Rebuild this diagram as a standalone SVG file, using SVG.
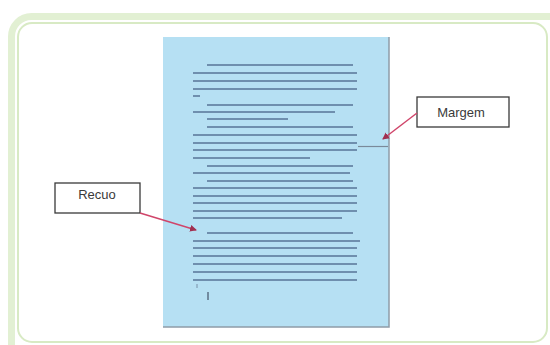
<svg xmlns="http://www.w3.org/2000/svg" width="550" height="345" viewBox="0 0 550 345">
<style>
.tl{stroke:#6f8fae;stroke-width:2.2;fill:none}
.box{fill:#fff;stroke:#3a3a3a;stroke-width:1.3}
.lbl{font-family:"Liberation Sans",Arial,sans-serif;font-size:13px;fill:#3a3a3a;text-anchor:middle}
.arr{stroke:#d0456a;stroke-width:1.5;fill:none;marker-end:url(#ah)}
</style>
<defs>
<marker id="ah" markerWidth="8" markerHeight="8" refX="6" refY="4" orient="auto" markerUnits="userSpaceOnUse">
<path d="M0,0.5 L7,4 L0,7.5 Z" fill="#a03050"/>
</marker>
</defs>
<rect width="550" height="345" fill="#fff"/>
<rect x="11.5" y="16.5" width="570" height="370" rx="20" fill="none" stroke="#e2f0d3" stroke-width="7"/>
<rect x="18" y="23" width="529" height="319" rx="14" fill="none" stroke="#d8eac4" stroke-width="2"/>
<g id="page">
<rect x="163" y="37" width="226" height="290" fill="#b6e0f3"/>
<path d="M389,37 V327 H163" stroke="#8e9ca8" stroke-width="1.5" fill="none"/>
<g class="tl">
<path d="M207,65 H353 M193,73 H357 M193,81 H357 M193,89 H357 M193,96 H200 M207,105 H353 M193,112 H335 M207,119 H288 M207,127 H353 M193,135 H357 M193,143 H357 M193,150 H357 M193,158 H310 M207,166 H353 M193,173 H350 M207,181 H353 M193,188 H357 M193,196 H357 M193,203 H357 M193,211 H357 M193,218 H342 M207,233 H353 M193,241 H360 M193,248 H357 M193,256 H357 M193,264 H357 M193,272 H357 M193,280 H357"/>
</g>
<path d="M208,292 V300" stroke="#5a6f85" stroke-width="1.5"/>
<path d="M197,284 V288" stroke="#7890a8" stroke-width="1"/>
<path d="M358,146.5 H388" stroke="#7a8a9a" stroke-width="1.2"/>
</g>
<g id="recuo">
<rect class="box" x="55" y="183" width="85" height="30"/>
<text class="lbl" x="97" y="198.5">Recuo</text>
</g>
<g id="margem">
<rect class="box" x="417" y="97" width="92" height="30"/>
<text class="lbl" x="461" y="117">Margem</text>
</g>
<g id="connectors">
<path class="arr" d="M140,213 L196,230"/>
<path class="arr" d="M417,113 L383,139"/>
</g>
</svg>
